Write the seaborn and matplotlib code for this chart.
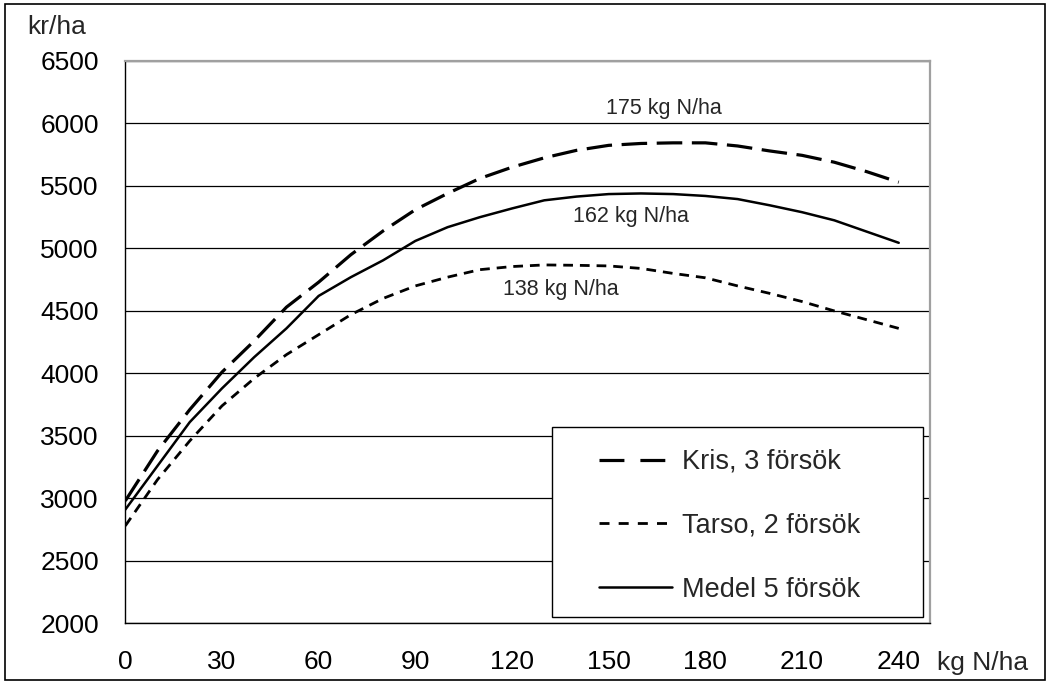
import numpy as np
import pandas as pd
import matplotlib
matplotlib.use("Agg")
import matplotlib.pyplot as plt
from matplotlib.patches import Rectangle
from matplotlib.lines import Line2D
import seaborn as sns

# ---- data ----
n_kg = [0, 10, 20, 30, 40, 50, 60, 70, 80, 90, 100, 110, 120,
        130, 140, 150, 160, 170, 180, 190, 200, 210, 220, 230, 240]
kris = [2980, 3380, 3710, 4010, 4260, 4530, 4730, 4950, 5140, 5310, 5440, 5560, 5650,
        5725, 5785, 5825, 5840, 5845, 5845, 5820, 5780, 5745, 5690, 5615, 5530]
tarso = [2780, 3150, 3460, 3740, 3960, 4150, 4310, 4470, 4600, 4700, 4770, 4830, 4855,
         4868, 4865, 4860, 4840, 4800, 4765, 4700, 4640, 4575, 4500, 4430, 4360]
medel = [2910, 3260, 3610, 3880, 4130, 4360, 4620, 4770, 4905, 5060, 5170, 5250, 5320,
         5385, 5415, 5435, 5440, 5435, 5420, 5395, 5345, 5290, 5225, 5135, 5045]
series_names = ["Kris, 3 försök", "Tarso, 2 försök", "Medel 5 försök"]
x_ticks = [0, 30, 60, 90, 120, 150, 180, 210, 240]
y_ticks = [2000, 2500, 3000, 3500, 4000, 4500, 5000, 5500, 6000, 6500]
opt_labels = ["175 kg N/ha", "162 kg N/ha", "138 kg N/ha"]

df = pd.DataFrame({
    "N": n_kg * 3,
    "kr": kris + tarso + medel,
    "serie": [series_names[0]] * len(n_kg) + [series_names[1]] * len(n_kg) + [series_names[2]] * len(n_kg),
})

sns.set_style("white")
plt.rcParams["font.family"] = ["Liberation Sans", "DejaVu Sans"]

W, H = 1051, 682
fig = plt.figure(figsize=(W / 100, H / 100), dpi=100)
ax = fig.add_axes([125.3 / W, 1 - 623.3 / H, (930 - 125.3) / W, (623.3 - 61) / H])

styles = {
    series_names[0]: dict(lw=2.3, dashes=(8, 3), leg_dashes=(7.8, 5)),
    series_names[1]: dict(lw=2.0, dashes=(3.5, 2.5), leg_dashes=(3.6, 3.3)),
    series_names[2]: dict(lw=1.8, dashes=None, leg_dashes=None),
}
handles = []
for name in series_names:
    sub = df[df["serie"] == name]
    st = styles[name]
    sns.lineplot(data=sub, x="N", y="kr", ax=ax, color="black", lw=st["lw"],
                 legend=False, zorder=3)
    line = ax.lines[-1]
    if st["dashes"] is not None:
        line.set_dashes(st["dashes"])
    proxy = Line2D([], [], color="black", lw=st["lw"])
    if st["leg_dashes"] is not None:
        proxy.set_dashes(st["leg_dashes"])
    handles.append(proxy)

ax.set_xlim(0, 249.7)
ax.set_ylim(2000, 6500)
ax.set_xticks(x_ticks)
ax.set_yticks(y_ticks)
ax.set_xlabel("")
ax.set_ylabel("")
ax.yaxis.grid(True, color="black", lw=0.9, zorder=1)
ax.xaxis.grid(False)
ax.set_axisbelow(True)
for s in ["left", "bottom"]:
    ax.spines[s].set_color("black")
    ax.spines[s].set_linewidth(1.0)
for s in ["top", "right"]:
    ax.spines[s].set_color("#a0a0a0")
    ax.spines[s].set_linewidth(1.6)
ax.tick_params(axis="both", direction="out", length=6, width=0.9, color="black",
               labelsize=19, labelcolor="black")
ax.tick_params(axis="y", pad=13)
ax.tick_params(axis="x", pad=13)

# annotations
ax.text(167, 6116, opt_labels[0], ha="center", va="center", fontsize=15.5)
ax.text(157, 5252, opt_labels[1], ha="center", va="center", fontsize=15.5)
ax.text(135, 4675, opt_labels[2], ha="center", va="center", fontsize=15.5)

fig.text(27 / W, 1 - 27 / H, "kr/ha", ha="left", va="center", fontsize=19)
fig.text(937 / W, 1 - 663 / H, "kg N/ha", ha="left", va="center", fontsize=19)

# legend box
fig.patches.append(Rectangle((552 / W, 1 - 617 / H), (923 - 552) / W, (617 - 427) / H,
                             transform=fig.transFigure, facecolor="white",
                             edgecolor="black", lw=1.0, zorder=2))
leg = fig.legend(handles, series_names, loc="upper left",
                 bbox_to_anchor=(599 / W, 1 - 449 / H), frameon=False,
                 borderpad=0, borderaxespad=0, handlelength=2.7, handletextpad=0.35,
                 labelspacing=1.4, fontsize=19.5)
leg.set_zorder(5)

# outer border
fig.patches.append(Rectangle((5 / W, 2 / H), (1045 - 5) / W, (679 - 3) / H,
                             transform=fig.transFigure, fill=False,
                             edgecolor="black", lw=1.2, zorder=10))

fig.savefig("out.png", dpi=100)
